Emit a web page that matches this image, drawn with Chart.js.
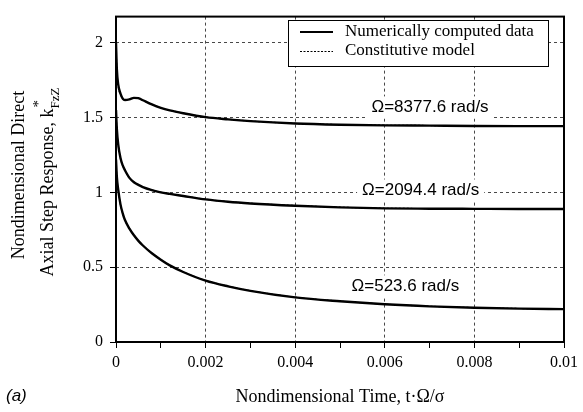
<!DOCTYPE html>
<html>
<head>
<meta charset="utf-8">
<script src="https://cdn.jsdelivr.net/npm/chart.js@4/dist/chart.umd.min.js"></script>
<style>
  html, body { margin: 0; padding: 0; background: #fff; }
  #wrap { width: 583px; height: 412px; position: relative; }
</style>
</head>
<body>
<div id="wrap"><canvas id="stepChart"></canvas></div>
<script>
// --- data ---
const times = [0, 0.00002, 0.00005, 0.0001, 0.00015, 0.0002, 0.0003, 0.0004, 0.0005, 0.0006, 0.0008,
  0.001, 0.0012, 0.0015, 0.002, 0.0025, 0.003, 0.004, 0.005, 0.006, 0.007, 0.008, 0.009, 0.01];

// Omega = 8377.6 rad/s
const numHigh = [2.0, 1.82, 1.72, 1.66, 1.627, 1.618, 1.622, 1.632, 1.630, 1.616, 1.588,
  1.565, 1.548, 1.529, 1.503, 1.488, 1.476, 1.460, 1.452, 1.448, 1.446, 1.444, 1.443, 1.443];
const modelHigh = [2.0, 1.81, 1.71, 1.655, 1.625, 1.619, 1.624, 1.630, 1.628, 1.615, 1.589,
  1.566, 1.549, 1.530, 1.504, 1.489, 1.477, 1.461, 1.453, 1.449, 1.447, 1.445, 1.444, 1.444];

// Omega = 2094.4 rad/s
const numMid = [1.55, 1.42, 1.32, 1.23, 1.18, 1.148, 1.097, 1.068, 1.05, 1.035, 1.015,
  1.0, 0.99, 0.976, 0.953, 0.937, 0.926, 0.911, 0.90, 0.893, 0.891, 0.89, 0.889, 0.889];
const modelMid = [1.55, 1.41, 1.315, 1.228, 1.179, 1.147, 1.098, 1.069, 1.051, 1.036, 1.016,
  1.001, 0.991, 0.977, 0.954, 0.938, 0.927, 0.912, 0.901, 0.894, 0.892, 0.891, 0.89, 0.89];

// Omega = 523.6 rad/s
const numLow = [1.22, 1.10, 1.017, 0.92, 0.86, 0.815, 0.758, 0.713, 0.676, 0.645, 0.593,
  0.55, 0.512, 0.468, 0.41, 0.372, 0.342, 0.298, 0.272, 0.252, 0.238, 0.229, 0.223, 0.22];
const modelLow = [1.22, 1.09, 1.012, 0.918, 0.858, 0.814, 0.759, 0.714, 0.677, 0.646, 0.594,
  0.551, 0.513, 0.469, 0.411, 0.373, 0.343, 0.299, 0.273, 0.253, 0.239, 0.23, 0.224, 0.221];

const xTicks = [0, 0.001, 0.002, 0.003, 0.004, 0.005, 0.006, 0.007, 0.008, 0.009, 0.01];
const xTickLabels = ['0', '', '0.002', '', '0.004', '', '0.006', '', '0.008', '', '0.01'];
const yTicks = [0, 0.5, 1, 1.5, 2];
const yTickLabels = ['0', '0.5', '1', '1.5', '2'];

const seriesLabels = ['Numerically computed data', 'Constitutive model'];
// curve labels: text, x value, y value
const curveNotes = [
  ['\u03A9=8377.6 rad/s', 0.00701, 1.568],
  ['\u03A9=2094.4 rad/s', 0.0068, 1.013],
  ['\u03A9=523.6 rad/s', 0.00646, 0.372]
];

const SERIF = '"Liberation Serif", "Times New Roman", serif';
const SANS = '"Liberation Sans", Arial, sans-serif';
const GRID = 'rgba(40,40,40,0.85)';

function line(label, values, dashed) {
  return {
    label: label,
    data: times.map((t, i) => ({ x: t, y: values[i] })),
    borderColor: '#000',
    borderWidth: dashed ? 1.2 : 2.4,
    borderDash: dashed ? [2, 2] : [],
    pointRadius: 0,
    fill: false,
    cubicInterpolationMode: 'monotone'
  };
}

// frame, notes, legend, axis titles
const decorations = {
  id: 'decorations',
  afterDatasetsDraw(chart) {
    const ctx = chart.ctx;
    const a = chart.chartArea;
    const xs = chart.scales.x, ys = chart.scales.y;
    ctx.save();

    // curve notes with white backing
    ctx.font = '17px ' + SANS;
    ctx.textAlign = 'center';
    ctx.textBaseline = 'middle';
    curveNotes.forEach(n => {
      const px = xs.getPixelForValue(n[1]);
      const py = ys.getPixelForValue(n[2]);
      const w = ctx.measureText(n[0]).width;
      ctx.fillStyle = '#fff';
      ctx.fillRect(px - w / 2 - 5, py - 11, w + 10, 22);
      ctx.fillStyle = '#000';
      ctx.fillText(n[0], px, py);
    });

    // legend box
    ctx.fillStyle = '#fff';
    ctx.fillRect(288, 20, 260, 46);
    ctx.strokeStyle = '#000';
    ctx.lineWidth = 1;
    ctx.strokeRect(288.5, 20.5, 260, 46);
    ctx.lineWidth = 2;
    ctx.beginPath(); ctx.moveTo(300, 32); ctx.lineTo(333, 32); ctx.stroke();
    ctx.lineWidth = 1.2;
    ctx.setLineDash([2, 1.5]);
    ctx.beginPath(); ctx.moveTo(300, 51.5); ctx.lineTo(333, 51.5); ctx.stroke();
    ctx.setLineDash([]);
    ctx.fillStyle = '#000';
    ctx.font = '17px ' + SERIF;
    ctx.textAlign = 'left';
    ctx.fillText(seriesLabels[0], 345, 32);
    ctx.fillText(seriesLabels[1], 345, 51);

    // frame
    ctx.strokeStyle = '#000';
    ctx.lineWidth = 2;
    ctx.strokeRect(a.left, a.top, a.right - a.left, a.bottom - a.top);

    // x title
    ctx.font = '18px ' + SERIF;
    ctx.textAlign = 'center';
    ctx.fillText('Nondimensional Time, t\u00B7\u03A9/\u03C3', (a.left + a.right) / 2, 397);

    // (a)
    ctx.font = 'italic 17px ' + SANS;
    ctx.textAlign = 'left';
    ctx.fillText('(a)', 6, 396);

    // y title, two rotated lines
    ctx.save();
    ctx.translate(19, 175);
    ctx.rotate(-Math.PI / 2);
    ctx.font = '18px ' + SERIF;
    ctx.textAlign = 'center';
    ctx.fillText('Nondimensional Direct', 0, 0);
    ctx.restore();

    ctx.save();
    ctx.translate(48, 182);
    ctx.rotate(-Math.PI / 2);
    const main = 'Axial Step Response, k';
    ctx.font = '13px ' + SERIF;
    const subW = ctx.measureText('FzZ').width;
    ctx.font = '18px ' + SERIF;
    const mainW = ctx.measureText(main).width;
    const x0 = -(mainW + subW) / 2;
    ctx.textAlign = 'left';
    ctx.fillText(main, x0, 0);
    ctx.font = '15px ' + SERIF;
    ctx.fillText('*', x0 + mainW + 1, -9);
    ctx.font = '13px ' + SERIF;
    ctx.fillText('FzZ', x0 + mainW, 8);
    ctx.restore();

    ctx.restore();
  }
};

new Chart(document.getElementById('stepChart'), {
  type: 'line',
  data: {
    datasets: [
      line(seriesLabels[0] + ' 8377.6', numHigh, false),
      line(seriesLabels[1] + ' 8377.6', modelHigh, true),
      line(seriesLabels[0] + ' 2094.4', numMid, false),
      line(seriesLabels[1] + ' 2094.4', modelMid, true),
      line(seriesLabels[0] + ' 523.6', numLow, false),
      line(seriesLabels[1] + ' 523.6', modelLow, true)
    ]
  },
  options: {
    responsive: true,
    maintainAspectRatio: false,
    animation: false,
    layout: { padding: { top: 10, right: 15, left: 0, bottom: 0 } },
    plugins: {
      legend: { display: false },
      tooltip: { enabled: false }
    },
    scales: {
      x: {
        type: 'linear',
        min: 0,
        max: 0.01,
        afterBuildTicks: s => { s.ticks = xTicks.map(v => ({ value: v })); },
        afterFit: s => { s.height = 70; },
        ticks: {
          autoSkip: false,
          maxRotation: 0,
          padding: 5,
          color: '#000',
          font: { family: SERIF, size: 16 },
          callback: (v, i) => xTickLabels[i]
        },
        grid: {
          color: c => (c.index % 2 === 0 && c.index > 0 && c.index < xTicks.length - 1) ? GRID : 'rgba(0,0,0,0)',
          tickColor: '#000',
          tickLength: 6,
          lineWidth: 1
        },
        border: { display: false, dash: [3, 3] }
      },
      y: {
        min: 0,
        max: 2.175,
        afterBuildTicks: s => { s.ticks = yTicks.map(v => ({ value: v })); },
        afterFit: s => { s.width = 116; },
        ticks: {
          padding: 7,
          color: '#000',
          font: { family: SERIF, size: 16 },
          callback: (v, i) => yTickLabels[i]
        },
        grid: {
          color: c => c.index > 0 ? GRID : 'rgba(0,0,0,0)',
          tickColor: '#000',
          tickLength: 6,
          lineWidth: 1
        },
        border: { display: false, dash: [3, 3] }
      }
    }
  },
  plugins: [decorations]
});
</script>
</body>
</html>
